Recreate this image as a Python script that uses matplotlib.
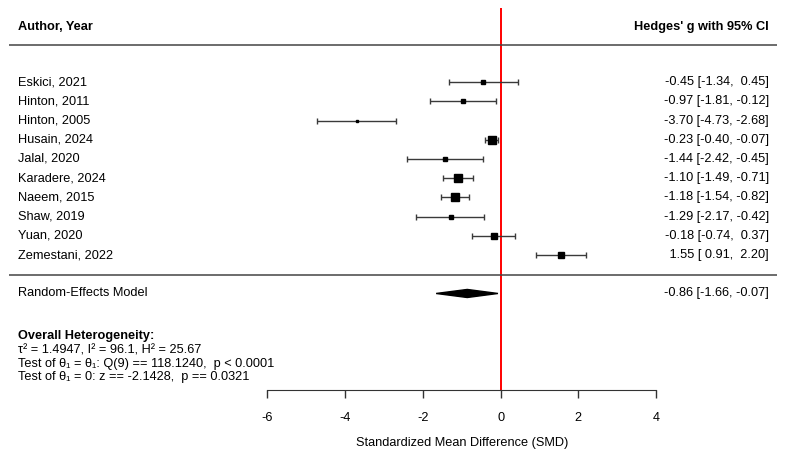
import matplotlib
matplotlib.use("Agg")
import matplotlib.pyplot as plt
import numpy as np

plt.rcParams['font.family'] = ['Liberation Sans', 'DejaVu Sans']

# ----------------------------
# DATA
# ----------------------------
studies = ["Eskici, 2021", "Hinton, 2011", "Hinton, 2005", "Husain, 2024", "Jalal, 2020",
           "Karadere, 2024", "Naeem, 2015", "Shaw, 2019", "Yuan, 2020", "Zemestani, 2022"]
smd = [-0.45, -0.97, -3.70, -0.23, -1.44, -1.10, -1.18, -1.29, -0.18, 1.55]
ci_low = [-1.34, -1.81, -4.73, -0.40, -2.42, -1.49, -1.54, -2.17, -0.74, 0.91]
ci_high = [0.45, -0.12, -2.68, -0.07, -0.45, -0.71, -0.82, -0.42, 0.37, 2.20]
weights = [9.56, 9.69, 9.20, 10.85, 9.31, 10.62, 10.65, 9.62, 10.34, 10.16]

re_est, re_low, re_high = -0.86, -1.66, -0.07
het_lines = [
    "\u03c4\u00b2 = 1.4947, I\u00b2 = 96.1, H\u00b2 = 25.67",
    "Test of \u03b8\u2081 = \u03b8\u2081: Q(9) == 118.1240,  p < 0.0001",
    "Test of \u03b8\u2081 = 0: z == -2.1428,  p == 0.0321",
]
xticks = [-6, -4, -2, 0, 2, 4]

# ----------------------------
# LAYOUT
# ----------------------------
fig = plt.figure(figsize=(7.86, 4.53), dpi=100)
ax = fig.add_axes([0, 0, 1, 1])
ax.set_xlim(-12.88, 7.34)
ax.set_ylim(-9.30, 14.27)

k = len(studies)
rows = np.arange(k, 0, -1)
fs = 9.2
x_lab = -12.42
x_val = 6.90

# header
ax.text(x_lab, 12.86, "Author, Year", fontsize=fs, fontweight="bold", va="center", ha="left")
ax.text(x_val, 12.86, "Hedges' g with 95% CI", fontsize=fs, fontweight="bold", va="center", ha="right")
ax.hlines([11.93, -0.04], -12.65, 7.11, color="#444444", lw=1.1)

# reference line
ax.vlines(0, -6.02, 13.85, color="red", lw=1.4, zorder=1)

# studies
w = np.array(weights)
psize = 0.5 + (w - w.min()) / (w.max() - w.min())
for i in range(k):
    y = rows[i]
    ax.errorbar(smd[i], y, xerr=[[smd[i] - ci_low[i]], [ci_high[i] - smd[i]]],
                fmt="none", ecolor="#3a3a3a", elinewidth=1.0, capsize=2.2, capthick=1.0, zorder=2)
    ax.plot(smd[i], y, marker="s", color="black", markersize=psize[i] * 5.5 * 0.72,
            linestyle="none", zorder=3)
    ax.text(x_lab, y, studies[i], fontsize=fs, va="center", ha="left")
    ax.text(x_val, y, f"{smd[i]:5.2f} [{ci_low[i]:5.2f}, {ci_high[i]:5.2f}]",
            fontsize=fs, va="center", ha="right")

# random-effects diamond
h = 0.21
ax.fill([re_low, re_est, re_high, re_est], [-1, -1 + h, -1, -1 - h], color="black", zorder=3)
ax.text(x_lab, -1, "Random-Effects Model", fontsize=fs, va="center", ha="left")
ax.text(x_val, -1, f"{re_est:5.2f} [{re_low:5.2f}, {re_high:5.2f}]", fontsize=fs, va="center", ha="right")

# heterogeneity
ax.text(x_lab, -3.20, "Overall Heterogeneity:", fontsize=fs, fontweight="bold", va="center", ha="left")
for j, line in enumerate(het_lines):
    ax.text(x_lab, [-3.97, -4.67, -5.36][j], line, fontsize=fs, va="center", ha="left")

# x axis
for s in ["top", "right", "left"]:
    ax.spines[s].set_visible(False)
ax.spines["bottom"].set_position(("data", -6.02))
ax.spines["bottom"].set_bounds(-6, 4)
ax.spines["bottom"].set_color("#333333")
ax.set_xticks(xticks)
ax.set_xticklabels([str(t) for t in xticks])
ax.tick_params(axis="x", direction="out", length=5.8, width=1.0, color="#333333",
               labelsize=fs, pad=10)
ax.set_yticks([])
ax.text(-1, -8.78, "Standardized Mean Difference (SMD)", fontsize=fs, ha="center", va="center")

fig.savefig("out.png", dpi=100)
